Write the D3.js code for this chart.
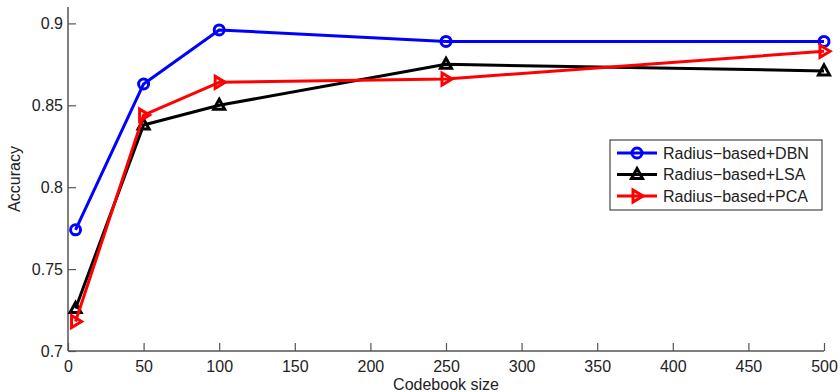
<!DOCTYPE html>
<html>
<head>
<meta charset="utf-8">
<script src="https://cdn.jsdelivr.net/npm/d3@7/dist/d3.min.js"></script>
<style>
  html, body { margin: 0; padding: 0; background: #fff; }
  text { font-family: "Liberation Sans", Arial, Helvetica, sans-serif; fill: #222; }
</style>
</head>
<body>
<svg id="chart" width="840" height="392"></svg>
<script>
// Codebook sizes evaluated
const codebookSizes = [5, 50, 100, 250, 500];

// Accuracy per method
const dbnAccuracy = [0.774, 0.863, 0.896, 0.889, 0.889];
const lsaAccuracy = [0.726, 0.838, 0.850, 0.875, 0.871];
const pcaAccuracy = [0.718, 0.844, 0.864, 0.866, 0.883];

const seriesNames = ["Radius\u2212based+DBN", "Radius\u2212based+LSA", "Radius\u2212based+PCA"];
const seriesColors = ["#0000ff", "#000000", "#ff0000"];
const seriesMarkers = ["circle", "triangleUp", "triangleRight"];

const xTicks = [0, 50, 100, 150, 200, 250, 300, 350, 400, 450, 500];
const yTicks = [0.7, 0.75, 0.8, 0.85, 0.9];

const svg = d3.select("#chart");
const plot = { left: 68, right: 824, top: 7, bottom: 351 };

const x = d3.scaleLinear().domain([0, 500]).range([plot.left, plot.right]);
const y = d3.scaleLinear().domain([0.7, 0.91]).range([plot.bottom, plot.top]);

// Axes (ticks point inward)
const xAxis = d3.axisBottom(x).tickValues(xTicks).tickSize(-8).tickPadding(10)
  .tickFormat(d3.format("d"));
const yAxis = d3.axisLeft(y).tickValues(yTicks).tickSize(-8).tickPadding(5)
  .tickFormat(d => d3.format("")(d));

const gx = svg.append("g").attr("transform", `translate(0,${plot.bottom})`).call(xAxis);
const gy = svg.append("g").attr("transform", `translate(${plot.left},0)`).call(yAxis);
[gx, gy].forEach(g => {
  g.select(".domain").attr("stroke", "#555").attr("stroke-width", 1.5);
  g.selectAll(".tick line").attr("stroke", "#555").attr("stroke-width", 1.2);
  g.selectAll(".tick text").attr("font-size", 16).attr("fill", "#222")
    .attr("font-family", "Liberation Sans, Arial, sans-serif");
});
gy.select(".domain").attr("d", `M0,${plot.top}V${plot.bottom}`);
gx.select(".domain").attr("d", `M${plot.left},0H${plot.right}`);

// Axis titles
svg.append("text").attr("x", (plot.left + plot.right) / 2).attr("y", 390)
  .attr("text-anchor", "middle").attr("font-size", 16).text("Codebook size");
svg.append("text").attr("transform", `translate(20,${(plot.top + plot.bottom) / 2}) rotate(-90)`)
  .attr("text-anchor", "middle").attr("font-size", 16).text("Accuracy");

// Marker shapes
function markerPath(kind) {
  if (kind === "triangleUp") return "M0,-6L5.5,4L-5.5,4Z";
  return "M-4,-6L6,0L-4,6Z";
}
function drawMarker(g, kind, cx, cy, color) {
  if (kind === "circle") {
    g.append("circle").attr("cx", cx).attr("cy", cy).attr("r", 5)
      .attr("fill", "none").attr("stroke", color).attr("stroke-width", 3);
  } else {
    g.append("path").attr("d", markerPath(kind))
      .attr("transform", `translate(${cx},${cy})`)
      .attr("fill", "none").attr("stroke", color).attr("stroke-width", 3)
      .attr("stroke-linejoin", "miter");
  }
}

const allSeries = [dbnAccuracy, lsaAccuracy, pcaAccuracy];
const line = d3.line().x((d, i) => x(codebookSizes[i])).y(d => y(d));

allSeries.forEach((vals, s) => {
  const g = svg.append("g");
  g.append("path").datum(vals).attr("d", line)
    .attr("fill", "none").attr("stroke", seriesColors[s]).attr("stroke-width", 3)
    .attr("stroke-linejoin", "round");
  vals.forEach((v, i) => drawMarker(g, seriesMarkers[s], x(codebookSizes[i]), y(v), seriesColors[s]));
});

// Legend
const legend = { x: 610, y: 140, w: 212, h: 70 };
const lg = svg.append("g");
lg.append("rect").attr("x", legend.x).attr("y", legend.y).attr("width", legend.w).attr("height", legend.h)
  .attr("fill", "#fff").attr("stroke", "#222").attr("stroke-width", 1);
seriesNames.forEach((name, s) => {
  const cy = legend.y + 13 + s * 21.5;
  lg.append("line").attr("x1", legend.x + 7).attr("x2", legend.x + 47).attr("y1", cy).attr("y2", cy)
    .attr("stroke", seriesColors[s]).attr("stroke-width", 3);
  drawMarker(lg, seriesMarkers[s], legend.x + 27, cy, seriesColors[s]);
  lg.append("text").attr("x", legend.x + 53).attr("y", cy).attr("dy", "0.35em")
    .attr("font-size", 16).text(name);
});
</script>
</body>
</html>
